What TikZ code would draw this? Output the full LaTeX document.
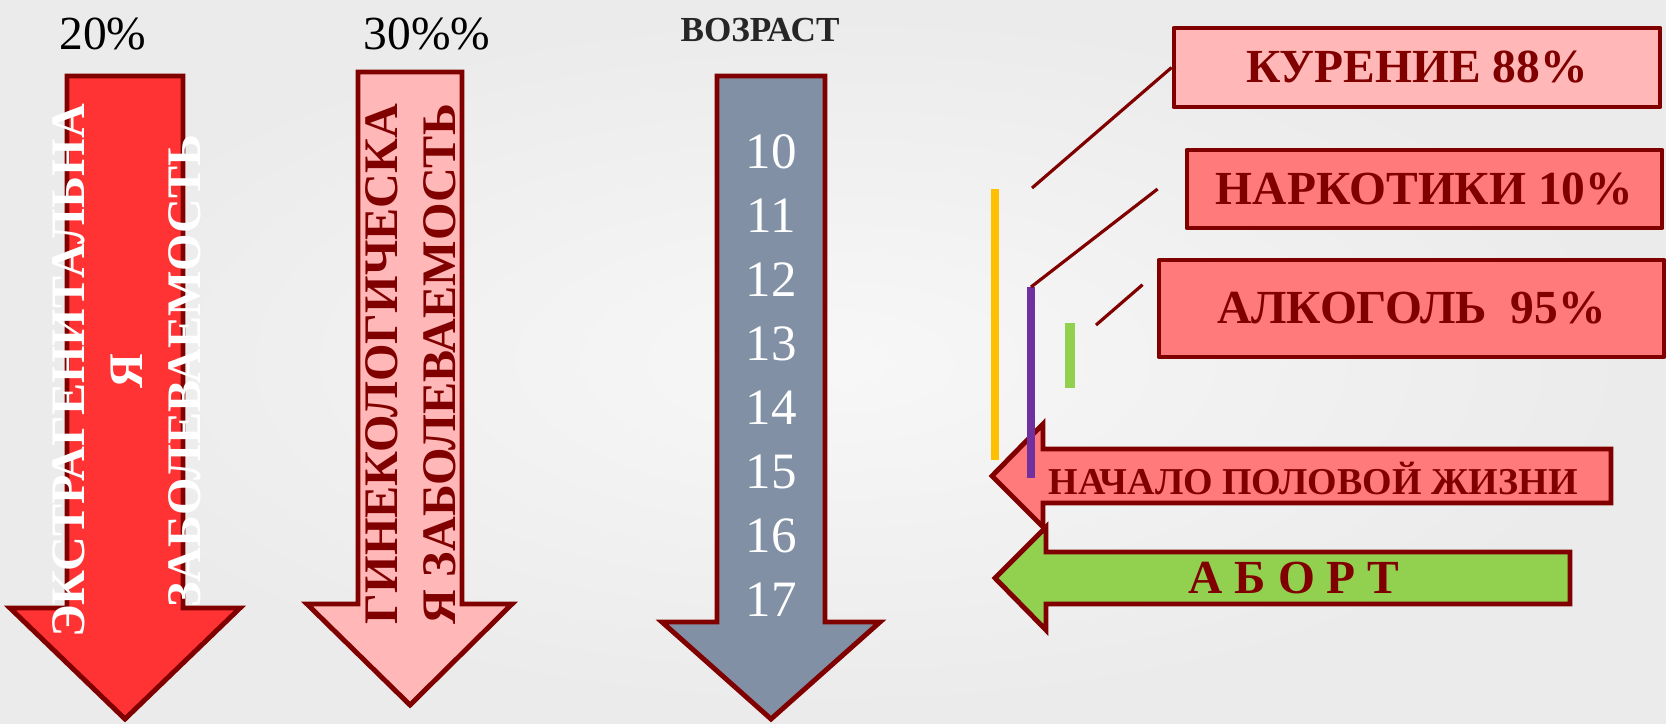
\documentclass[tikz,border=0pt]{standalone}
\usepackage{fontspec}
\setmainfont{Liberation Serif}
\usetikzlibrary{calc}

\definecolor{maroon}{HTML}{800000}
\definecolor{redA}{HTML}{FF3333}
\definecolor{pinkA}{HTML}{FFB7B7}
\definecolor{slateA}{HTML}{8190A5}
\definecolor{salmonA}{HTML}{FF7A7A}
\definecolor{greenA}{HTML}{92D050}
\definecolor{yellowA}{HTML}{FFC000}
\definecolor{purpleA}{HTML}{7030A0}

\begin{document}
\begin{tikzpicture}[
  x=0.01cm,y=-0.01cm,
  ar/.style={draw=maroon,line width=1.4pt,line join=miter},
  bx/.style={draw=maroon,line width=1.3pt,line join=round,text=maroon,inner sep=0pt,
            font=\bfseries\fontsize{13.5}{16}\selectfont},
  ln/.style={draw=maroon,line width=0.9pt},
  vt/.style={rotate=90,align=center,inner sep=0pt,
            font=\bfseries\fontsize{13.7}{16.5}\selectfont},
  num/.style={text=white,inner sep=0pt,font=\fontsize{14.5}{17}\selectfont},
  pc/.style={inner sep=0pt,font=\fontsize{13.5}{16}\selectfont},
  lt/.style={text=maroon,inner sep=0pt,font=\bfseries\fontsize{10.8}{12}\selectfont}]

% background
\path[use as bounding box] (0,0) rectangle (1666,723);
\shade[inner color=black!3,outer color=black!8] (0,0) rectangle (1666,723);

% headings
\node[pc] (p20) at (103,34) {20\%};
\node[pc] (p30) at (427,34) {30\%\%};
\node[inner sep=0pt,font=\bfseries\fontsize{10}{12}\selectfont,text=black!85] (age) at (760,30) {ВОЗРАСТ};

% down arrows
\draw[ar,fill=redA] (67,76) -- (183,76) -- (183,608) -- (240,608) -- (125,719) -- (10,608) -- (67,608) -- cycle;
\draw[ar,fill=pinkA] (358,72) -- (462,72) -- (462,604) -- (512,604) -- (410,705) -- (307,604) -- (358,604) -- cycle;
\draw[ar,fill=slateA] (717,76) -- (825,76) -- (825,622) -- (880,622) -- (771,719) -- (662,622) -- (717,622) -- cycle;

\node[vt,text=white] (extra) at (127,371) {ЭКСТРАГЕНИТАЛЬНА\\Я\\ЗАБОЛЕВАЕМОСТЬ};
\node[vt,text=maroon] (gyn) at (411,364) {ГИНЕКОЛОГИЧЕСКА\\Я ЗАБОЛЕВАЕМОСТЬ};

\foreach \n [count=\i from 0] in {10,...,17} { \node[num] (a\n) at (771,152+63.9*\i) {\n}; }

% factors (right)
\node[bx,fill=pinkA,minimum width=4.86cm,minimum height=0.79cm] (kur) at (1417,67.5) {КУРЕНИЕ 88\%};
\node[bx,fill=salmonA,minimum width=4.75cm,minimum height=0.78cm] (nar) at (1424.5,189) {НАРКОТИКИ 10\%};
\node[bx,fill=salmonA,minimum width=5.05cm,minimum height=0.97cm] (alk) at (1411.5,308.5) {АЛКОГОЛЬ\ \ 95\%};

% left arrows
\draw[ar,fill=salmonA] (992,476) -- (1043,424) -- (1043,449) -- (1611,449) -- (1611,503) -- (1043,503) -- (1043,527) -- cycle;
\draw[ar,fill=greenA] (995,578) -- (1046,527) -- (1046,552) -- (1570,552) -- (1570,604) -- (1046,604) -- (1046,630) -- cycle;
\node[lt] (start) at (1313,478) {НАЧАЛО ПОЛОВОЙ ЖИЗНИ};
\node[lt,font=\bfseries\fontsize{13.5}{16}\selectfont] (abort) at (1294,578) {А Б О Р Т};

% bars
\coordinate (yT) at (995,189);
\coordinate (yB) at (995,460);
\coordinate (pT) at (1031,287);
\coordinate (pB) at (1031,478);
\coordinate (gT) at (1070,323);
\coordinate (gB) at (1070,388);
\draw[yellowA,line width=2.3pt] (yT) -- (yB);
\draw[purpleA,line width=2.3pt] (pT) -- (pB);
\draw[greenA,line width=3.1pt] (gT) -- (gB);

% connectors
\coordinate (kE) at (1032,188);
\coordinate (aE) at (1096,325);
\draw[ln] (kur.west) -- (kE);
\draw[ln] ($(nar.west)+(-27,0)$) -- (pT);
\draw[ln] ($(alk.north west)+(-14,27)$) -- (aE);
\end{tikzpicture}
\end{document}
